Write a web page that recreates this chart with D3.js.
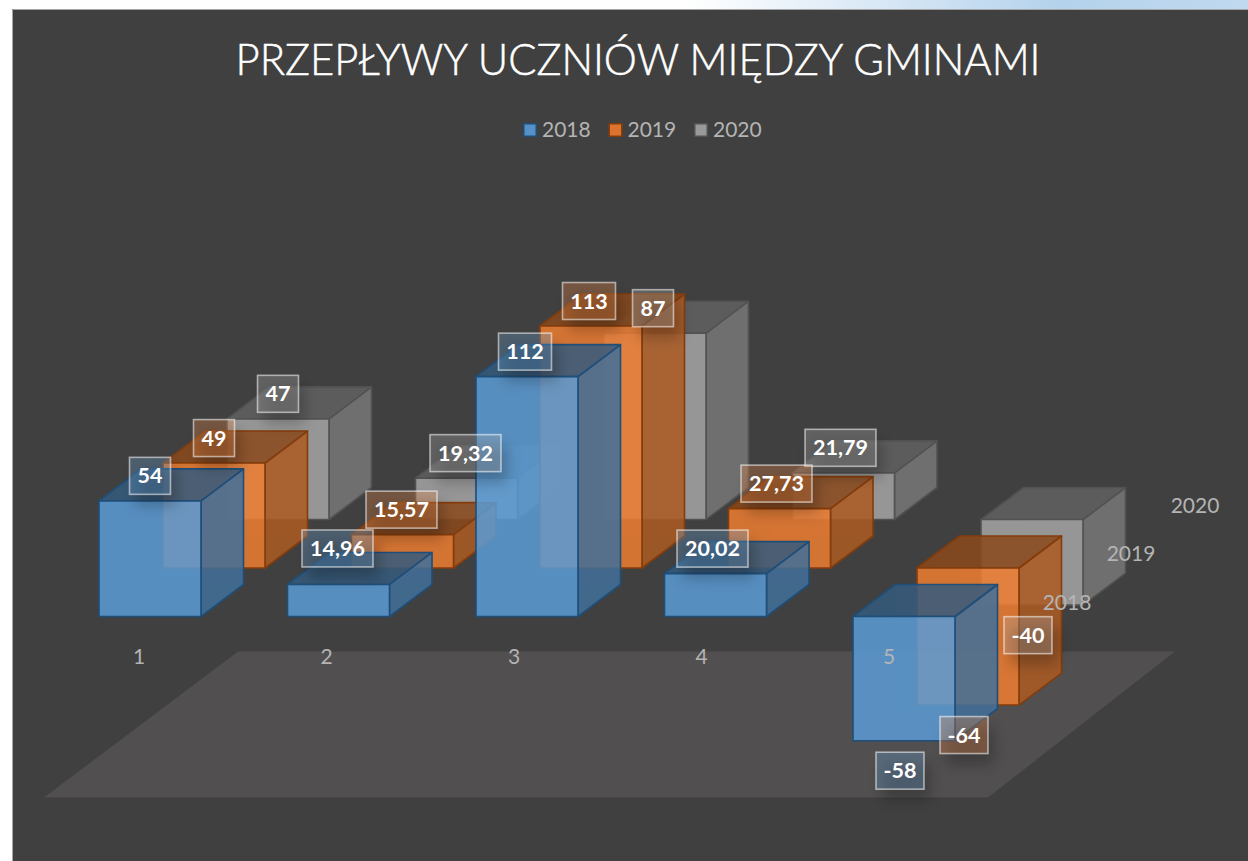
<!DOCTYPE html>
<html><head><meta charset="utf-8">
<script src="https://cdn.jsdelivr.net/npm/d3@7/dist/d3.min.js"></script>
<style>html,body{margin:0;padding:0;background:#fff;overflow:hidden}svg{display:block}text{font-family:Lato,"Open Sans",sans-serif}</style>
</head><body><svg id="c" width="1248" height="861"></svg>
<script>
const titleText = "PRZEPŁYWY UCZNIÓW MIĘDZY GMINAMI";
const categories = ["1","2","3","4","5"];
const years = ["2018","2019","2020"];
const values2018 = [54, 14.96, 112, 20.02, -58];
const values2019 = [49, 15.57, 113, 27.73, -64];
const values2020 = [47, 19.32, 87, 21.79, -40];
const seriesValues = [values2018, values2019, values2020];
const baseColors = ["#5b9bd5", "#ed7d31", "#a5a5a5"];
const edgeColors = ["#1f4e79", "#843c0c", "#525252"];

const svg = d3.select("#c");
const defs = svg.append("defs");
const hg = defs.append("linearGradient").attr("id","hdr");
hg.append("stop").attr("offset","0.55").attr("stop-color","#ffffff");
hg.append("stop").attr("offset","0.85").attr("stop-color","#b4d2ec");
hg.append("stop").attr("offset","1").attr("stop-color","#c0d9ef");
defs.append("filter").attr("id","blur").attr("x","-60%").attr("y","-60%").attr("width","220%").attr("height","220%")
  .append("feGaussianBlur").attr("stdDeviation",7);

// Page and chart area
svg.append("rect").attr("width",1248).attr("height",9).attr("fill","url(#hdr)");
svg.append("rect").attr("x",12).attr("y",9).attr("width",1236).attr("height",852)
  .attr("fill","#404040");
svg.append("path").attr("d","M12.5,861V9.5H1248").attr("fill","none").attr("stroke","#a6a6a6");

// Oblique projection built from scales
const xCat = d3.scalePoint().domain(categories).range([99, 853]);
const xAxisCat = d3.scalePoint().domain(categories).range([139, 889]);
const xDepth = d3.scalePoint().domain(years).range([0, 128]);
const yBase = d3.scalePoint().domain(years).range([616.5, 519.5]);
const yVal = d3.scaleLinear().domain([0, 113]).range([0, 242]);
const barW = 102, depthX = 42.5, depthY = 32;

// Floor
const floorPts = [[44,797.5],[988,797.5],[1175,651.5],[238,651.5]];
svg.append("polygon").attr("points",floorPts.join(" ")).attr("fill","#514f50");

const shade = (c,k) => { const r=d3.rgb(c); return d3.rgb(r.r*k,r.g*k,r.b*k).formatHex(); };
const gBars = svg.append("g");

function faces(x, y0, y1) { // y0: upper edge, y1: lower edge on the front plane
  const w=barW, dx=depthX, dy=depthY;
  return {
    back:  [[x+dx,y0-dy],[x+w+dx,y0-dy],[x+w+dx,y1-dy],[x+dx,y1-dy]],
    left:  [[x,y0],[x+dx,y0-dy],[x+dx,y1-dy],[x,y1]],
    bottom:[[x,y1],[x+w,y1],[x+w+dx,y1-dy],[x+dx,y1-dy]],
    front: [[x,y0],[x+w,y0],[x+w,y1],[x,y1]],
    right: [[x+w,y0],[x+w+dx,y0-dy],[x+w+dx,y1-dy],[x+w,y1]],
    top:   [[x,y0],[x+w,y0],[x+w+dx,y0-dy],[x+dx,y0-dy]]
  };
}
const labels = [];
for (let s = years.length-1; s >= 0; s--) {
  const yr = years[s];
  categories.forEach((c,i) => {
    const v = seriesValues[s][i];
    const x = xCat(c) + xDepth(yr);
    const base = yBase(yr);
    const h = yVal(Math.abs(v));
    const y0 = v >= 0 ? base - h : base;
    const y1 = v >= 0 ? base : base + h;
    const f = faces(x, y0, y1);
    const col = baseColors[s], e = edgeColors[s];
    const g = gBars.append("g");
    const draw = (pts, fill, op) => g.append("polygon").attr("points",pts.join(" "))
      .attr("fill",fill).attr("fill-opacity",op).attr("stroke",e).attr("stroke-opacity",op<0.2?0.2:1)
      .attr("stroke-width",op<0.2?1:1.6).attr("stroke-linejoin","round");
    draw(f.back, col, 0.08);
    draw(f.left, shade(col,0.7), 0.08);
    draw(f.bottom, shade(col,0.7), 0.08);
    draw(f.right, shade(col,0.72), 0.85);
    draw(f.top, shade(col,0.58), 0.85);
    draw(f.front, col, 0.85);
    labels.push({text:String(v).replace(".",","), s, i,
      cx: x + barW/2 - i,
      cy: v >= 0 ? y0 - 25 : y1 + 30 });
  });
}
// The low bar of series 2018, category 2 keeps its label a little higher in the reference
labels.forEach(l => { if (l.s===0 && l.i===1) l.cy -= 11; });

// Axis labels
const axisCol = "#b4b4b4";
const gAxis = svg.append("g").attr("fill",axisCol).attr("font-size",21).attr("text-anchor","middle");
gAxis.selectAll(".cat").data(categories).join("text")
  .attr("x",d=>xAxisCat(d)).attr("y",664).text(d=>d);
gAxis.selectAll(".ser").data(years).join("text")
  .attr("x",d=>1067+xDepth(d)).attr("y",d=>yBase(d)-7).text(d=>d);

// Data labels
const gL = svg.append("g");
const ordered = labels.slice().sort((a,b)=>b.s-a.s);
ordered.forEach(l => {
  const t = gL.append("text").attr("x",l.cx).attr("y",l.cy+7.5).attr("text-anchor","middle")
    .attr("font-size",21.5).attr("font-weight",700).attr("fill","#fff").text(l.text);
  const bw = l.text.length>3 ? 71 : (l.text.length===3 ? (l.text[0]==="-"?48:53) : 41), bh = 37;
  gL.insert("rect","text").attr("x",l.cx-bw/2+6).attr("y",l.cy-bh/2+11).attr("width",bw).attr("height",bh)
    .attr("fill","#000").attr("fill-opacity",0.24).attr("filter","url(#blur)");
  gL.insert("rect","text").attr("x",l.cx-bw/2).attr("y",l.cy-bh/2).attr("width",bw).attr("height",bh)
    .attr("fill",baseColors[l.s]).attr("fill-opacity",0.28).attr("stroke","#ffffff").attr("stroke-opacity",0.55).attr("stroke-width",1.6);
  gL.insert("rect","text").attr("x",l.cx-bw/2).attr("y",l.cy-bh/2).attr("width",bw).attr("height",bh)
    .attr("fill","#fff").attr("fill-opacity",0.04);
});

// Title
svg.append("text").attr("x",638).attr("y",75).attr("text-anchor","middle")
  .attr("fill","#fff").attr("stroke","#fff").attr("stroke-width",0.5).attr("font-size",43).attr("font-weight",300).attr("textLength",805).attr("lengthAdjust","spacingAndGlyphs").text(titleText);

// Legend
const legX = d3.scalePoint().domain(years).range([523, 694]);
const gLeg = svg.append("g");
years.forEach((y,s)=>{
  gLeg.append("rect").attr("x",legX(y)+0.75).attr("y",123.75).attr("width",12.5).attr("height",12.5)
    .attr("fill",shade(baseColors[s],0.93)).attr("stroke",edgeColors[s]).attr("stroke-width",1.5);
  gLeg.append("text").attr("x",legX(y)+19).attr("y",137).attr("fill",axisCol).attr("font-size",21).text(y);
});
</script></body></html>
